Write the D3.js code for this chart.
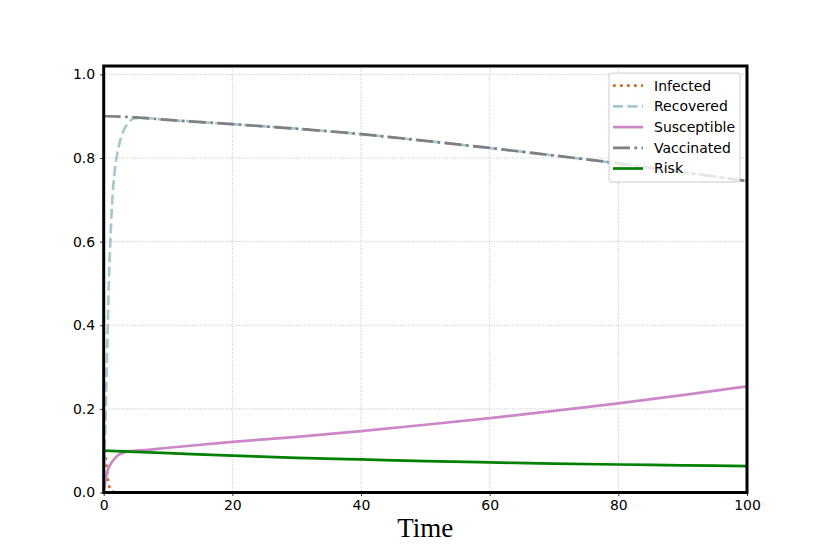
<!DOCTYPE html>
<html>
<head>
<meta charset="utf-8">
<script src="https://cdn.jsdelivr.net/npm/d3@7/dist/d3.min.js"></script>
<style>
  body { margin: 0; background: #fff; }
  svg { display: block; }
  .tick text { font-family: "DejaVu Sans", sans-serif; font-size: 14px; fill: #000; }
</style>
</head>
<body>
<div id="chart"></div>
<script>
// Time points and values for each compartment.
const infectedTime = [0, 0.2, 0.35, 0.45, 0.55, 0.7, 0.9, 1.1, 1.5, 2, 3, 100];
const infectedValues = [0.1, 0.088, 0.078, 0.062, 0.045, 0.026, 0.013, 0.006, 0.002, 0.0005, 0, 0];

const recoveredTime = [0, 0.1, 0.25, 0.4, 0.6, 0.8, 1.0, 1.3, 1.7, 2.1, 2.5, 3.0, 3.8, 4.8, 6, 10, 20, 30, 40, 50, 60, 70, 80, 90, 100];
const recoveredValues = [0, 0.06, 0.15, 0.25, 0.38, 0.5, 0.59, 0.69, 0.767, 0.81, 0.838, 0.862, 0.884, 0.895, 0.896, 0.891, 0.881, 0.870, 0.857, 0.841, 0.824, 0.806, 0.787, 0.766, 0.745];

const susceptibleTime = [0, 0.3, 0.6, 0.9, 1.2, 1.7, 2.3, 3, 3.9, 5, 10, 20, 30, 40, 50, 60, 70, 80, 90, 100];
const susceptibleValues = [0, 0.03, 0.052, 0.063, 0.071, 0.081, 0.09, 0.095, 0.099, 0.1, 0.107, 0.121, 0.133, 0.147, 0.162, 0.178, 0.195, 0.213, 0.233, 0.254];

const vaccinatedTime = [0, 5, 10, 20, 30, 40, 50, 60, 70, 80, 90, 100];
const vaccinatedValues = [0.9, 0.897, 0.891, 0.881, 0.870, 0.857, 0.841, 0.824, 0.806, 0.787, 0.766, 0.745];

const riskTime = [0, 10, 20, 30, 40, 50, 60, 70, 80, 90, 100];
const riskValues = [0.1, 0.094, 0.088, 0.083, 0.079, 0.075, 0.072, 0.069, 0.067, 0.065, 0.063];

const xTicks = [0, 20, 40, 60, 80, 100];
const yTicks = [0, 0.2, 0.4, 0.6, 0.8, 1.0];

const series = [
  { name: 'Infected', time: infectedTime, values: infectedValues, colour: '#cd6a26', dash: '2.7,4.3' },
  { name: 'Recovered', time: recoveredTime, values: recoveredValues, colour: '#a6c8cf', dash: '10,4.4' },
  { name: 'Susceptible', time: susceptibleTime, values: susceptibleValues, colour: '#cc88c6', dash: null },
  { name: 'Vaccinated', time: vaccinatedTime, values: vaccinatedValues, colour: '#808080', dash: '17,4.4,2.7,4.4' },
  { name: 'Risk', time: riskTime, values: riskValues, colour: 'green', dash: null },
];

const width = 830, height = 554;
const margin = { top: 66, right: 83, bottom: 61.5, left: 103.7 };
const innerW = width - margin.left - margin.right;
const innerH = height - margin.top - margin.bottom;

const svg = d3.select('#chart').append('svg')
  .attr('width', width)
  .attr('height', height);

const g = svg.append('g').attr('transform', `translate(${margin.left},${margin.top})`);

const x = d3.scaleLinear().domain([0, 100]).range([0, innerW]);
const y = d3.scaleLinear().domain([0, 1.02]).range([innerH, 0]);

// Grid
g.append('g').selectAll('line').data(xTicks).join('line')
  .attr('x1', d => x(d)).attr('x2', d => x(d))
  .attr('y1', 0).attr('y2', innerH)
  .attr('stroke', '#b0b0b0').attr('stroke-width', 0.8).attr('stroke-dasharray', '1,1.6');
g.append('g').selectAll('line').data(yTicks).join('line')
  .attr('x1', 0).attr('x2', innerW)
  .attr('y1', d => y(d)).attr('y2', d => y(d))
  .attr('stroke', '#b0b0b0').attr('stroke-width', 0.8).attr('stroke-dasharray', '1,1.6');

// Axes
const xAxis = g.append('g')
  .attr('transform', `translate(0,${innerH})`)
  .call(d3.axisBottom(x).tickValues(xTicks).tickSize(3.5).tickPadding(4).tickFormat(d3.format('d')));
const yAxis = g.append('g')
  .call(d3.axisLeft(y).tickValues(yTicks).tickSize(3.5).tickPadding(5).tickFormat(d3.format('.1f')));
[xAxis, yAxis].forEach(a => {
  a.select('.domain').remove();
  a.selectAll('.tick line').attr('stroke', '#000').attr('stroke-width', 0.8);
});

// Lines
svg.append('defs').append('clipPath').attr('id', 'plotclip')
  .append('rect').attr('width', innerW).attr('height', innerH);

const line = d3.line()
  .x(d => x(d[0]))
  .y(d => y(d[1]))
  .curve(d3.curveMonotoneX);

const lines = g.append('g').attr('clip-path', 'url(#plotclip)');
series.forEach(s => {
  lines.append('path')
    .datum(s.time.map((t, i) => [t, s.values[i]]))
    .attr('d', line)
    .attr('fill', 'none')
    .attr('stroke', s.colour)
    .attr('stroke-width', 2.7)
    .attr('stroke-dasharray', s.dash);
});

// Frame
g.append('rect')
  .attr('width', innerW).attr('height', innerH)
  .attr('fill', 'none').attr('stroke', '#000').attr('stroke-width', 3);

// Axis title
g.append('text')
  .attr('x', innerW / 2)
  .attr('y', innerH + 44)
  .attr('text-anchor', 'middle')
  .style('font-family', '"Liberation Serif", "Times New Roman", serif')
  .style('font-size', '27px')
  .text('Time');

// Legend
const legend = svg.append('g').attr('transform', 'translate(609,73)');
legend.append('rect')
  .attr('width', 131).attr('height', 109).attr('rx', 3)
  .attr('fill', '#fff').attr('fill-opacity', 0.8)
  .attr('stroke', '#cccccc').attr('stroke-width', 1);
series.forEach((s, i) => {
  const row = legend.append('g').attr('transform', `translate(0,${12.7 + i * 20.7})`);
  row.append('line')
    .attr('x1', 4).attr('x2', 34)
    .attr('stroke', s.colour).attr('stroke-width', 2.7)
    .attr('stroke-dasharray', s.dash);
  row.append('text')
    .attr('x', 45).attr('dy', '0.35em')
    .style('font-family', '"DejaVu Sans", sans-serif')
    .style('font-size', '14px')
    .text(s.name);
});
</script>
</body>
</html>
